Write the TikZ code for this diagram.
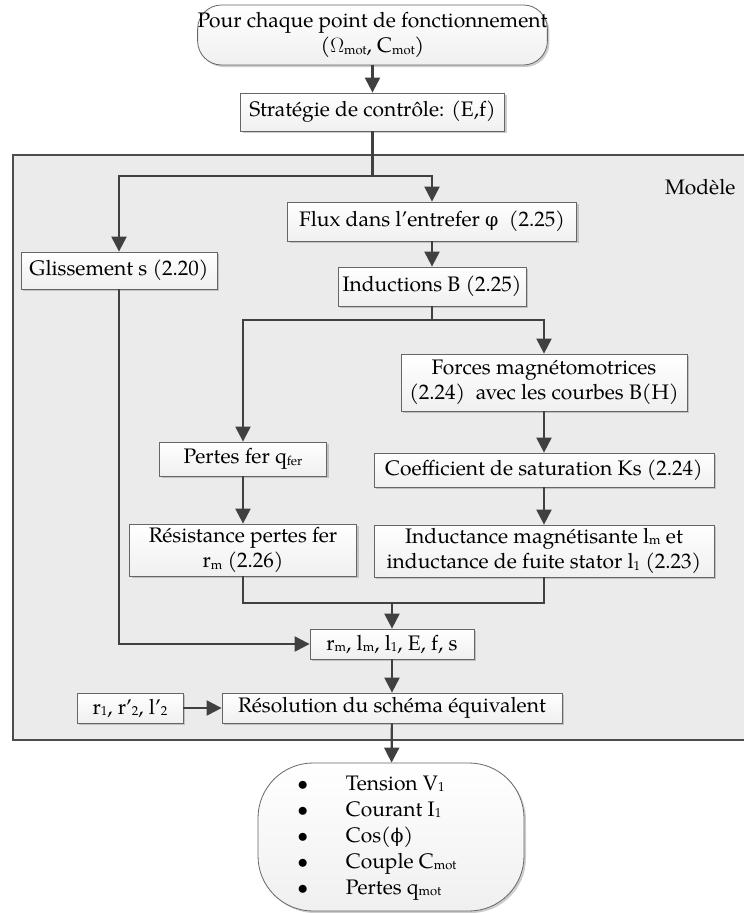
\documentclass[tikz,border=0pt]{standalone}
\usepackage{fontspec}
\setmainfont{TeX Gyre Pagella}
\newfontfamily\grkfont{DejaVu Serif}
\usetikzlibrary{arrows.meta,shadows}
\definecolor{linec}{HTML}{404040}
\definecolor{panel}{HTML}{EBEBEB}
\newcommand{\lowsub}[1]{\raisebox{-1.5pt}{\fontsize{13}{13}\selectfont #1}}
\begin{document}
\begin{tikzpicture}[x=1pt,y=-1pt,
  every node/.style={font=\fontsize{21}{25.5}\selectfont},
  box/.style={draw=black!60, line width=0.8pt, top color=white, bottom color=black!6,
    inner sep=0pt, align=center,
    drop shadow={shadow xshift=2pt,shadow yshift=-2pt,fill=black!40,opacity=0.5}},
  term/.style={box, rounded corners=#1},
  arr/.style={draw=linec, line width=2.2pt, -{Triangle[length=15pt,width=15pt]}},
  ln/.style={draw=linec, line width=2.2pt},
]
\useasboundingbox (0,0) rectangle (744,913);
% model panel
\draw[fill=panel, draw=black!70, line width=1.3pt] (13,155) rectangle (750,740);
\node[anchor=east] (modele) at (739,187) {Modèle};

% nodes
\node[term=24pt, minimum width=349pt, minimum height=60pt] (top) at (372.5,35)
  {Pour chaque point de fonctionnement\\($\Omega$\lowsub{mot}, C\lowsub{mot})};
\node[box, minimum width=264pt, minimum height=38pt] (strat) at (372.5,112)
  {Stratégie de contrôle: (E,f)};
\node[box, minimum width=196pt, minimum height=37pt] (gliss) at (119,270.5)
  {Glissement s (2.20)};
\node[box, minimum width=289pt, minimum height=39pt] (flux) at (432,221.5)
  {Flux dans l’entrefer {\grkfont\fontsize{19}{19}\selectfont φ}~ (2.25)};
\node[box, minimum width=188pt, minimum height=39pt] (induc) at (432,286.5)
  {Inductions B (2.25)};
\node[box, minimum width=286pt, minimum height=57pt] (forces) at (544,382.5)
  {Forces magnétomotrices\\(2.24)~ avec les courbes B(H)};
\node[box, minimum width=340pt, minimum height=34pt] (coeff) at (544,470)
  {Coefficient de saturation Ks (2.24)};
\node[box, minimum width=340pt, minimum height=52pt] (inductance) at (544,551)
  {Inductance magnétisante l\lowsub{m} et\\inductance de fuite stator l\lowsub{1} (2.23)};
\node[box, minimum width=167pt, minimum height=34pt] (pertes) at (243,459)
  {Pertes fer q\lowsub{fer}};
\node[box, minimum width=227pt, minimum height=52pt] (resist) at (243,550)
  {Résistance pertes fer\\r\lowsub{m} (2.26)};
\node[box, minimum width=164pt, minimum height=30pt] (rm) at (392,644)
  {r\lowsub{m}, l\lowsub{m}, l\lowsub{1}, E, f, s};
\node[box, minimum width=340pt, minimum height=30pt] (resol) at (392,708)
  {Résolution du schéma équivalent};
\node[box, minimum width=106pt, minimum height=30pt] (r1) at (130,708)
  {r\lowsub{1}, r’\lowsub{2}, l’\lowsub{2}};
\node[term=55pt, minimum width=266pt, minimum height=148pt] (out) at (391,837)
  {\fontsize{21}{26}\selectfont
   \begin{tabular}{@{}c@{\hspace{38pt}}l@{\hspace{28pt}}}
   $\bullet$ & Tension V\lowsub{1}\\
   $\bullet$ & Courant I\lowsub{1}\\
   $\bullet$ & Cos({\grkfont\fontsize{19}{19}\selectfont ϕ})\\
   $\bullet$ & Couple C\lowsub{mot}\\
   $\bullet$ & Pertes q\lowsub{mot}
   \end{tabular}};

% connectors
\coordinate (s1) at (372.5,176);
\coordinate (s2) at (432,320);
\coordinate (s3) at (392,603);
\draw[arr] (top) -- (strat);
\draw[arr] (strat.south) -- (s1) -| (gliss.north);
\draw[arr] (s1) -| (flux.north);
\draw[arr] (flux) -- (induc);
\draw[arr] (induc.south) -- (s2) -| (pertes.north);
\draw[arr] (s2) -| (forces.north);
\draw[arr] (forces) -- (coeff);
\draw[arr] (coeff) -- (inductance);
\draw[arr] (pertes) -- (resist);
\draw[ln] (resist.south) |- (s3) -| (inductance.south);
\draw[arr] (s3) -- (rm.north);
\draw[arr] (gliss.south) |- (rm.west);
\draw[arr] (rm) -- (resol);
\draw[arr] (r1) -- (resol);
\draw[arr] (resol) -- (out);
\end{tikzpicture}
\end{document}
